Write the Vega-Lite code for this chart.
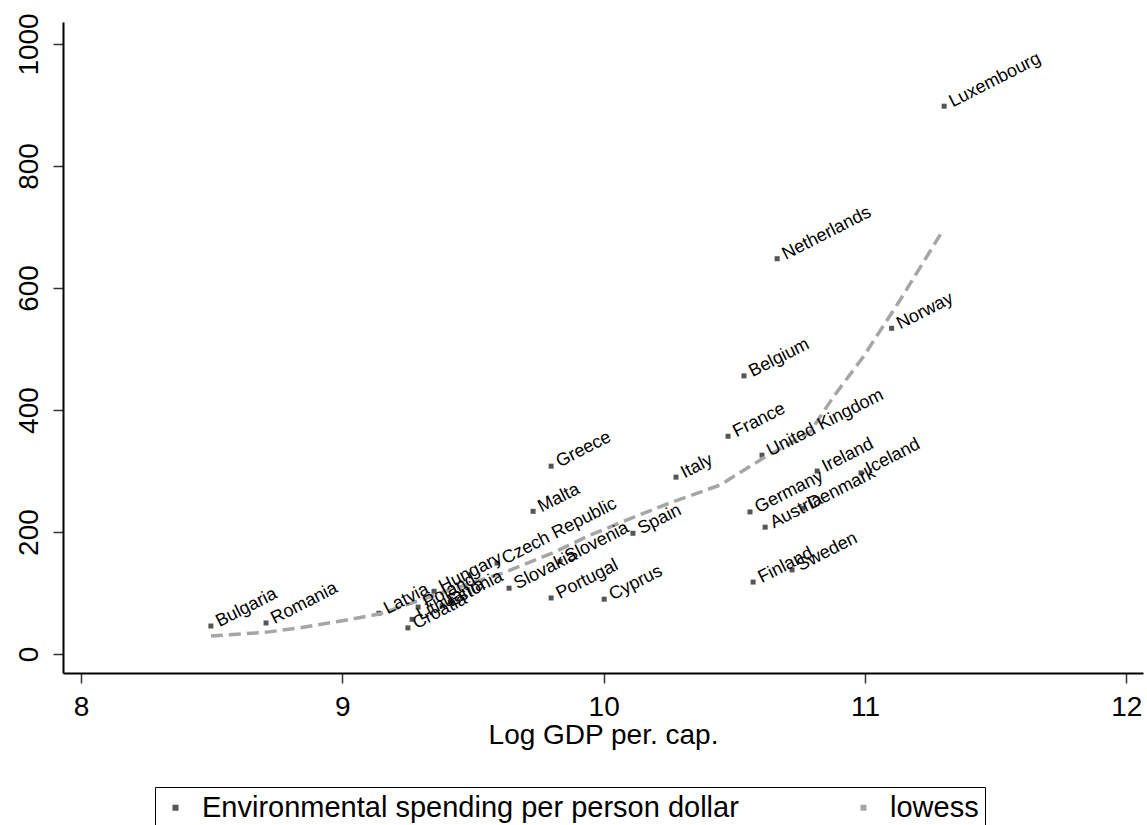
{
  "$schema": "https://vega.github.io/schema/vega-lite/v6.json",
  "width": 1080,
  "height": 651,
  "autosize": "none",
  "padding": {"left": 63, "top": 22, "right": 4, "bottom": 152},
  "background": "white",
  "datasets": {
    "countries": [
      {"country": "Bulgaria", "gdp": 8.497, "spend": 46},
      {"country": "Romania", "gdp": 8.708, "spend": 51},
      {"country": "Latvia", "gdp": 9.140, "spend": 67},
      {"country": "Poland", "gdp": 9.290, "spend": 77},
      {"country": "Hungary", "gdp": 9.351, "spend": 103},
      {"country": "Lithuania", "gdp": 9.267, "spend": 57},
      {"country": "Croatia", "gdp": 9.251, "spend": 43},
      {"country": "Estonia", "gdp": 9.382, "spend": 79},
      {"country": "Czech Republic", "gdp": 9.592, "spend": 149},
      {"country": "Slovakia", "gdp": 9.638, "spend": 108},
      {"country": "Slovenia", "gdp": 9.833, "spend": 152},
      {"country": "Portugal", "gdp": 9.799, "spend": 92},
      {"country": "Cyprus", "gdp": 10.002, "spend": 90},
      {"country": "Spain", "gdp": 10.112, "spend": 198},
      {"country": "Greece", "gdp": 9.799, "spend": 308},
      {"country": "Malta", "gdp": 9.730, "spend": 234},
      {"country": "Italy", "gdp": 10.277, "spend": 290},
      {"country": "France", "gdp": 10.476, "spend": 357},
      {"country": "Belgium", "gdp": 10.537, "spend": 456},
      {"country": "Netherlands", "gdp": 10.664, "spend": 648},
      {"country": "Luxembourg", "gdp": 11.303, "spend": 898},
      {"country": "Norway", "gdp": 11.102, "spend": 534},
      {"country": "United Kingdom", "gdp": 10.606, "spend": 326},
      {"country": "Germany", "gdp": 10.560, "spend": 233},
      {"country": "Ireland", "gdp": 10.817, "spend": 300},
      {"country": "Austria", "gdp": 10.618, "spend": 208},
      {"country": "Denmark", "gdp": 10.763, "spend": 239},
      {"country": "Iceland", "gdp": 10.985, "spend": 297},
      {"country": "Finland", "gdp": 10.572, "spend": 118},
      {"country": "Sweden", "gdp": 10.721, "spend": 138}
    ],
    "lowess": [
      {"gdp": 8.497, "fit": 29.5},
      {"gdp": 8.712, "fit": 36},
      {"gdp": 8.838, "fit": 43},
      {"gdp": 9.018, "fit": 56},
      {"gdp": 9.144, "fit": 66},
      {"gdp": 9.412, "fit": 105},
      {"gdp": 9.615, "fit": 133},
      {"gdp": 9.806, "fit": 166},
      {"gdp": 9.948, "fit": 195},
      {"gdp": 10.090, "fit": 220},
      {"gdp": 10.254, "fit": 248},
      {"gdp": 10.445, "fit": 277},
      {"gdp": 10.610, "fit": 321},
      {"gdp": 10.790, "fit": 364},
      {"gdp": 10.878, "fit": 421},
      {"gdp": 10.993, "fit": 487},
      {"gdp": 11.134, "fit": 580},
      {"gdp": 11.299, "fit": 695}
    ]
  },
  "layer": [
    {
      "data": {"name": "countries"},
      "mark": {"type": "point", "shape": "square", "filled": true, "size": 25, "opacity": 1},
      "encoding": {
        "x": {"field": "gdp", "type": "quantitative", "title": "Log GDP per. cap.",
          "scale": {"domain": [7.931, 12.064], "nice": false, "zero": false},
          "axis": {"values": [8, 9, 10, 11, 12], "format": "d"}},
        "y": {"field": "spend", "type": "quantitative", "title": null,
          "scale": {"domain": [-31, 1036], "nice": false, "zero": false},
          "axis": {"values": [0, 200, 400, 600, 800, 1000], "labelAngle": -90, "format": "d"}},
        "color": {
          "datum": "Environmental spending per person dollar",
          "scale": {"domain": ["Environmental spending per person dollar", "lowess"], "range": ["#555555", "#a6a6a6"]},
          "legend": {
            "orient": "none", "legendX": 92, "legendY": 765,
            "direction": "horizontal", "columns": 2, "title": null,
            "strokeColor": "#000000", "padding": 6,
            "labelFontSize": 29, "labelFont": "Liberation Sans", "labelColor": "#000000", "labelLimit": 0,
            "symbolSize": 36, "labelOffset": 12, "columnPadding": 110
          }
        }
      }
    },
    {
      "data": {"name": "lowess"},
      "mark": {"type": "line", "strokeWidth": 3.5, "strokeDash": [12, 6], "clip": true, "color": "#a6a6a6"},
      "encoding": {
        "x": {"field": "gdp", "type": "quantitative"},
        "y": {"field": "fit", "type": "quantitative"}
      }
    },
    {
      "data": {"name": "countries"},
      "mark": {"type": "text", "angle": -27, "align": "left", "baseline": "middle", "dx": 7,
        "fontSize": 18, "font": "Liberation Sans", "color": "#000000"},
      "encoding": {
        "x": {"field": "gdp", "type": "quantitative"},
        "y": {"field": "spend", "type": "quantitative"},
        "text": {"field": "country"}
      }
    }
  ],
  "config": {
    "view": {"stroke": null},
    "axis": {
      "grid": false,
      "domainColor": "#000000", "domainWidth": 2,
      "tickColor": "#333333", "tickWidth": 1.5, "tickSize": 10,
      "labelFont": "Liberation Sans", "labelFontSize": 28, "labelColor": "#000000",
      "labelPadding": 10,
      "titleFont": "Liberation Sans", "titleFontSize": 28, "titleFontWeight": "normal", "titleColor": "#000000",
      "titlePadding": 0
    }
  }
}
